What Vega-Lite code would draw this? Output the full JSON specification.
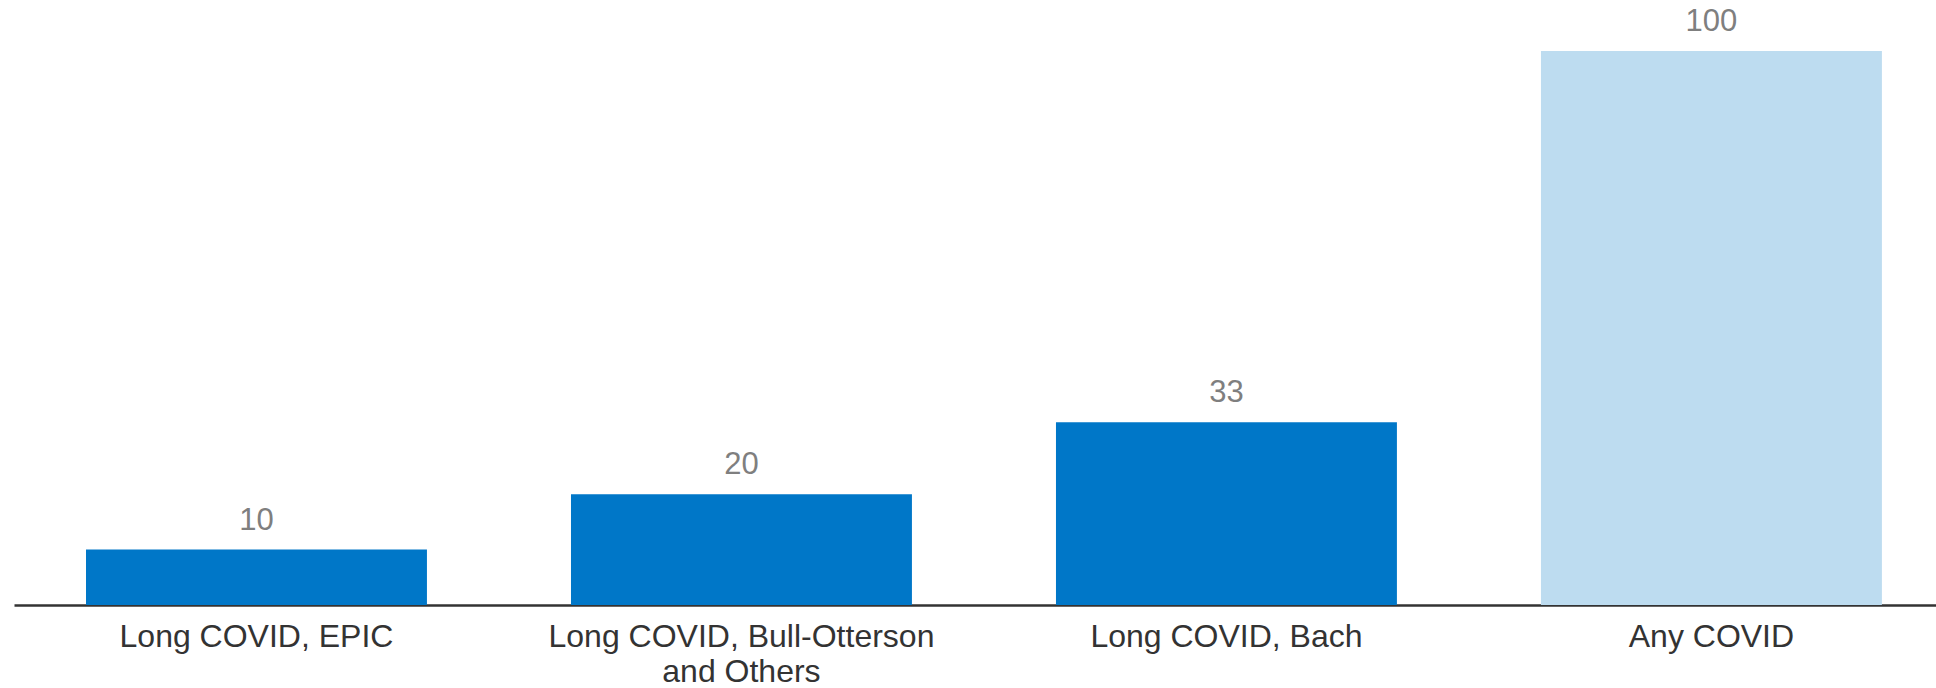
{
  "$schema": "https://vega.github.io/schema/vega-lite/v6.json",
  "width": 1922,
  "height": 554,
  "autosize": {"type": "none"},
  "padding": {"left": 14, "top": 51, "right": 0, "bottom": 83},
  "background": "white",
  "config": {"view": {"stroke": null}, "font": "Liberation Sans"},
  "data": {
    "values": [
      {"category": "Long COVID, EPIC", "value": 10, "group": "long"},
      {"category": "Long COVID, Bull-Otterson and Others", "value": 20, "group": "long"},
      {"category": "Long COVID, Bach", "value": 33, "group": "long"},
      {"category": "Any COVID", "value": 100, "group": "any"}
    ]
  },
  "encoding": {
    "x": {
      "field": "category",
      "type": "nominal",
      "sort": null,
      "scale": {"paddingInner": 0.297, "paddingOuter": 0.13, "align": 0.571},
      "axis": {
        "title": null,
        "labelAngle": 0,
        "ticks": false,
        "grid": false,
        "domain": true,
        "domainColor": "#333333",
        "domainWidth": 2.5,
        "labelPadding": 16,
        "labelFontSize": 32,
        "labelColor": "#333333",
        "labelLimit": 800,
        "labelLineHeight": 35,
        "labelExpr": "datum.label == 'Long COVID, Bull-Otterson and Others' ? ['Long COVID, Bull-Otterson', 'and Others'] : datum.label"
      }
    },
    "y": {
      "field": "value",
      "type": "quantitative",
      "scale": {"domain": [0, 100]},
      "axis": null
    }
  },
  "layer": [
    {
      "mark": {"type": "bar"},
      "encoding": {
        "color": {
          "field": "group",
          "type": "nominal",
          "scale": {"domain": ["long", "any"], "range": ["#0077C8", "#BDDCF0"]},
          "legend": null
        }
      }
    },
    {
      "mark": {"type": "text", "dy": -20, "baseline": "alphabetic", "fontSize": 31, "color": "#7F7F7F"},
      "encoding": {"text": {"field": "value", "type": "quantitative"}}
    }
  ]
}
